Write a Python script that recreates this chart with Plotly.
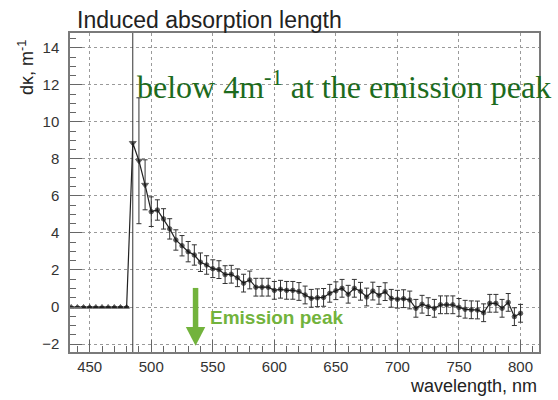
import plotly.graph_objects as go

# ---- data ----
wavelength = [435, 440, 445, 450, 455, 460, 465, 470, 475, 480,
              485, 490, 495, 500, 505, 510, 515, 520, 525, 530,
              535, 540, 545, 550, 555, 560, 565, 570, 575, 580,
              585, 590, 595, 600, 605, 610, 615, 620, 625, 630,
              635, 640, 645, 650, 655, 660, 665, 670, 675, 680,
              685, 690, 695, 700, 705, 710, 715, 720, 725, 730,
              735, 740, 745, 750, 755, 760, 765, 770, 775, 780,
              785, 790, 795, 800]
dk = [0, 0, 0, 0, 0, 0, 0, 0, 0, 0,
      8.86, 7.90, 6.60, 5.15, 5.24, 4.76, 4.22, 3.62, 3.31, 2.99,
      2.81, 2.42, 2.27, 2.07, 2.02, 1.75, 1.77, 1.58, 1.29, 1.46,
      1.07, 1.07, 1.07, 0.90, 0.96, 0.90, 0.90, 0.84, 0.65, 0.47,
      0.50, 0.52, 0.74, 0.88, 1.01, 0.69, 1.01, 0.85, 0.54, 0.86,
      0.63, 0.83, 0.47, 0.42, 0.45, 0.38, -0.07, 0.15, 0.02, -0.07,
      0.12, 0.12, 0.12, -0.02, -0.12, -0.15, -0.16, -0.31, 0.20, 0.20,
      -0.07, 0.25, -0.52, -0.34]
dk_err = [0, 0, 0, 0, 0, 0, 0, 0, 0, 0,
          25.0, 3.40, 1.35, 0.80, 0.55, 0.55, 0.55, 0.55, 0.55, 0.55,
          0.55, 0.50, 0.50, 0.48, 0.48, 0.48, 0.48, 0.48, 0.48, 0.48,
          0.48, 0.48, 0.48, 0.48, 0.48, 0.48, 0.48, 0.48, 0.48, 0.48,
          0.48, 0.48, 0.48, 0.48, 0.48, 0.48, 0.48, 0.48, 0.48, 0.48,
          0.48, 0.48, 0.48, 0.48, 0.48, 0.48, 0.48, 0.48, 0.48, 0.48,
          0.48, 0.48, 0.48, 0.48, 0.48, 0.48, 0.48, 0.48, 0.48, 0.48,
          0.48, 0.48, 0.48, 0.48]

title_text = "Induced absorption length"
x_title = "wavelength, nm"
y_title = "dκ, m<sup>-1</sup>"
note_text = "below 4m<sup>-1</sup> at the emission peak"
peak_label = "Emission peak"
arrow_x = 536          # nm
arrow_top, arrow_base, arrow_tip = 1.03, -1.08, -2.09
arrow_half = 7.9       # nm

# marker styles derived from position in the series
symbols = []
sizes = []
for w, v in zip(wavelength, dk):
    if v == 0 and w < 485:
        symbols.append("triangle-up"); sizes.append(5)
    elif w <= 495:
        symbols.append("triangle-down"); sizes.append(6)
    else:
        symbols.append("circle"); sizes.append(4.5)

fig = go.Figure()
fig.add_trace(go.Scatter(
    x=wavelength, y=dk, mode="lines+markers",
    line=dict(color="#222222", width=1.2),
    marker=dict(symbol=symbols, size=sizes, color="#111111"),
    error_y=dict(type="data", array=dk_err, visible=True,
                 color="#333333", thickness=1, width=2.5),
    showlegend=False, hoverinfo="skip"))

green = "#72b33c"
fig.add_shape(type="line", x0=arrow_x, x1=arrow_x, y0=arrow_top, y1=arrow_base,
              line=dict(color=green, width=5.5), xref="x", yref="y")
fig.add_shape(type="path",
              path=f"M {arrow_x - arrow_half},{arrow_base} L {arrow_x + arrow_half},{arrow_base} L {arrow_x},{arrow_tip} Z",
              fillcolor=green, line=dict(color=green, width=0), xref="x", yref="y")

axis_common = dict(
    showgrid=True, gridcolor="#9a9a9a", griddash="dot", gridwidth=1,
    ticks="inside", ticklen=12, tickcolor="#666666", tickwidth=1,
    showline=True, mirror=True, linecolor="#7a7a7a", linewidth=1.5,
    zeroline=False, tickfont=dict(family="Liberation Sans, Arial", size=15, color="#333333"),
)

fig.update_xaxes(range=[434, 815], tick0=450, dtick=50,
                 minor=dict(ticks="inside", ticklen=6, dtick=10, tick0=450,
                            tickcolor="#666666", showgrid=False),
                 **axis_common)
fig.update_yaxes(range=[-2.43, 14.8], tick0=0, dtick=2,
                 minor=dict(ticks="inside", ticklen=6, dtick=0.5, tick0=0,
                            tickcolor="#666666", showgrid=False),
                 ticklabelstandoff=6,
                 **axis_common)

annotations = [
    dict(text=title_text, xref="paper", yref="paper", x=0.0107, y=1.041,
         xanchor="left", yanchor="middle", showarrow=False,
         font=dict(family="Liberation Sans, Arial", size=23, color="#222222")),
    dict(text=y_title, xref="paper", yref="paper", x=-0.094, y=0.893,
         xanchor="center", yanchor="middle", textangle=-90, showarrow=False,
         font=dict(family="Liberation Sans, Arial", size=18, color="#222222")),
    dict(text=x_title, xref="paper", yref="paper", x=1.0, y=-0.107,
         xanchor="right", yanchor="middle", showarrow=False,
         font=dict(family="Liberation Sans, Arial", size=18, color="#222222")),
    dict(text=note_text, xref="x", yref="y", x=487, y=12.0,
         xanchor="left", yanchor="middle", showarrow=False,
         font=dict(family="Liberation Serif, Times New Roman, serif", size=32, color="#1d6b1d")),
    dict(text="<b>" + peak_label + "</b>", xref="x", yref="y", x=546.5, y=-0.55,
         xanchor="left", yanchor="middle", showarrow=False,
         font=dict(family="Liberation Sans, Arial", size=19, color=green)),
]

fig.update_layout(
    width=558, height=400,
    margin=dict(l=70, r=19, t=33, b=48),
    paper_bgcolor="white", plot_bgcolor="white",
    annotations=annotations,
)

fig.write_html("out.html")
